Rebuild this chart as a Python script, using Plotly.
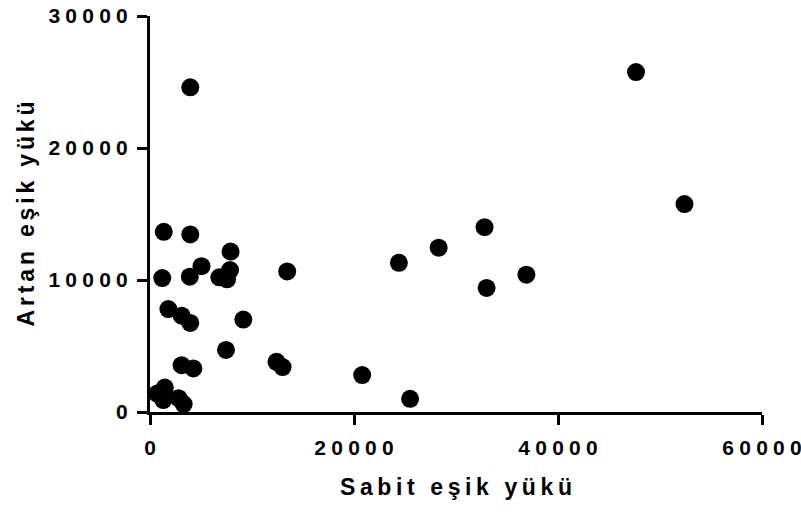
import plotly.graph_objects as go

sabit = [47650, 52400, 3950, 32800, 28300, 24400, 36900, 33000, 13450, 20800,
         25500, 13000, 12400, 1350, 3950, 7900, 1200, 3900, 5050, 6800,
         7850, 7550, 1800, 3100, 3950, 9150, 7450, 3100, 4250, 1450,
         700, 1300, 2800, 3300]
artan = [25750, 15750, 24600, 14000, 12450, 11300, 10400, 9400, 10650, 2800,
         1000, 3400, 3800, 13650, 13450, 12150, 10150, 10250, 11050, 10200,
         10750, 10050, 7800, 7300, 6750, 7000, 4700, 3550, 3300, 1850,
         1400, 900, 1050, 600]

x_ticks = [0, 20000, 40000, 60000]
y_ticks = [0, 10000, 20000, 30000]
x_title = "Sabit eşik yükü"
y_title = "Artan eşik yükü"


def spaced(s, sp):
    return sp.join(list(s))


fig = go.Figure()
fig.add_trace(go.Scatter(
    x=sabit, y=artan, mode="markers",
    marker=dict(size=18, color="black", line=dict(width=0)),
    cliponaxis=False, showlegend=False,
))

fam = "Liberation Sans, Arial, sans-serif"
font_tick = dict(family=fam, size=21, color="black", weight="bold")
font_title = dict(family=fam, size=23, color="black", weight="bold")

fig.update_layout(
    width=801, height=512,
    margin=dict(l=150, r=39, t=16, b=100, autoexpand=False),
    plot_bgcolor="white", paper_bgcolor="white",
    xaxis=dict(
        range=[0, 60000], tickvals=x_ticks,
        ticktext=[spaced(str(v), "\u2005") for v in x_ticks],
        showline=True, linecolor="black", linewidth=3,
        ticks="outside", ticklen=10, tickwidth=3, tickcolor="black",
        showgrid=False, zeroline=False, tickfont=font_tick,
        ticklabelstandoff=5, ticklabeloverflow="allow", automargin=False,
        title=dict(text=spaced(x_title, "\u2009"), font=font_title, standoff=21),
    ),
    yaxis=dict(
        range=[0, 30000], tickvals=y_ticks,
        ticktext=[spaced(str(v), "\u2005") for v in y_ticks],
        showline=True, linecolor="black", linewidth=3,
        ticks="outside", ticklen=10, tickwidth=3, tickcolor="black",
        showgrid=False, zeroline=False, tickfont=font_tick,
        ticklabelstandoff=5, ticklabeloverflow="allow", automargin=False,
        title=dict(text=spaced(y_title, "\u2006"), font=font_title, standoff=8),
    ),
)

fig.write_html("out.html")
